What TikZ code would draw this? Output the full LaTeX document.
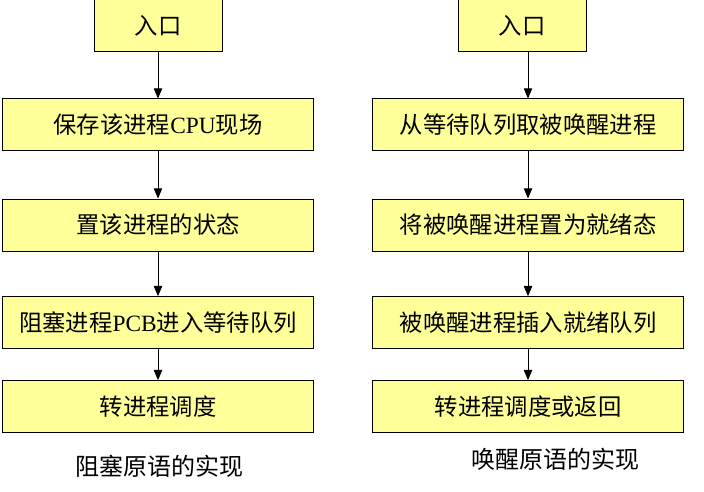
\documentclass[tikz,border=0pt]{standalone}
\usepackage{fontspec}
\setmainfont{Liberation Serif}
\newfontfamily\cjk{Noto Sans CJK SC}
\usetikzlibrary{positioning}
\usetikzlibrary{arrows}
\definecolor{boxyellow}{RGB}{255,255,153}
\tikzstyle{proc} = [rectangle,fill=boxyellow,draw=black,line width=0.75pt,
minimum width=233pt, minimum height=39pt, inner sep=0pt,
font=\cjk\fontsize{17.5}{20}\selectfont, node distance=34.5pt]
\tikzstyle{entry} = [proc, minimum width=96pt]
\tikzstyle{caption} = [font=\cjk\fontsize{18}{20}\selectfont, inner sep=0pt]
\tikzset{>={triangle 45}}
\newcommand{\flowto}[1]{ %
  % one arrow for every pair from/to
  \foreach \x/\y in {#1} { %
    \draw[->,line width=0.75pt] (\x) -- (\y) ;%
  } ;
}

\begin{document}
\begin{tikzpicture}
  \useasboundingbox (0,0) rectangle (528pt,-369pt);

  % blocking primitive
  \node[entry] (bin) at (118.5pt,-19.5pt) {入口};
  \node[proc, below=of bin] (bsave) {保存该进程\textrm{CPU}现场};
  \node[proc, below=of bsave, yshift=-0.75pt] (bstate) {置该进程的状态};
  \node[proc, below=of bstate, yshift=1pt] (bqueue) {阻塞进程\textrm{PCB}进入等待队列};
  \node[proc, below=of bqueue, yshift=11.25pt] (bsched) {转进程调度};
  \node[caption] (bcap) at (119.25pt,-349.5pt) {阻塞原语的实现};

  % wakeup primitive
  \node[entry] (win) at (391.5pt,-19.5pt) {入口};
  \node[proc, below=of win, xshift=4.5pt] (wtake) {从等待队列取被唤醒进程};
  \node[proc, below=of wtake, yshift=-0.75pt] (wstate) {将被唤醒进程置为就绪态};
  \node[proc, below=of wstate, yshift=1pt] (wqueue) {被唤醒进程插入就绪队列};
  \node[proc, below=of wqueue, yshift=11.25pt] (wsched) {转进程调度或返回};
  \node[caption] (wcap) at (416.25pt,-344.25pt) {唤醒原语的实现};

  \flowto{bin/bsave, bsave/bstate, bstate/bqueue, bqueue/bsched}
  \draw[->,line width=0.75pt] (win.south -| wtake) -- (wtake);
  \flowto{wtake/wstate, wstate/wqueue, wqueue/wsched}
\end{tikzpicture}
\end{document}
